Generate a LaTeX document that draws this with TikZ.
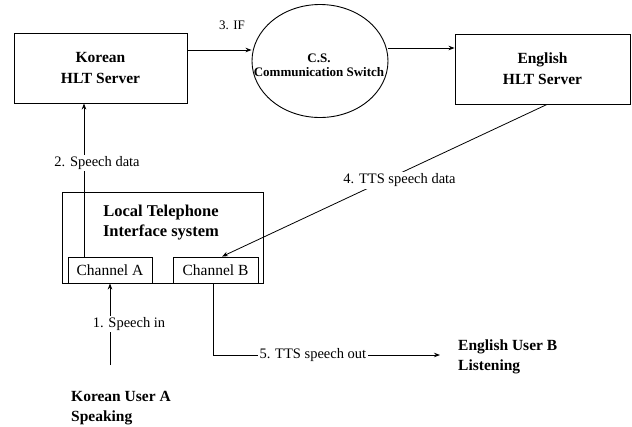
\documentclass[tikz,border=0pt]{standalone}
\usepackage{fontspec}
\setmainfont{Liberation Serif}
\usetikzlibrary{shapes.geometric,arrows.meta}

\tikzset{
  srvbox/.style={draw, line width=0.9pt, align=center, inner sep=0pt,
    font=\fontsize{15.5}{21}\selectfont\bfseries},
  chanbox/.style={draw, line width=0.9pt, inner sep=0pt,
    font=\fontsize{15.5}{17}\selectfont},
  boldtxt/.style={align=left, inner sep=0pt,
    font=\fontsize{15.5}{20}\selectfont\bfseries},
  lbl/.style={fill=white, inner sep=1.5pt, font=\fontsize{14.5}{17}\selectfont},
  arr/.style={-{Stealth[length=6pt,width=4.5pt]}, line width=0.8pt},
}

\begin{document}
\begin{tikzpicture}[x=1pt, y=-1pt]
\useasboundingbox (0,0) rectangle (632,426);

% servers and switch
\node[srvbox, minimum width=173pt, minimum height=70pt] (korean) at (100.5, 68) {Korean\\HLT Server};
\node[srvbox, minimum width=175pt, minimum height=70pt] (english) at (542.5, 69) {English\\HLT Server};
\node[draw, ellipse, line width=0.9pt, inner sep=0pt, minimum width=136pt, minimum height=113pt] (cs) at (320, 61) {};
\node[align=center, inner sep=0pt, font=\fontsize{13}{14}\selectfont\bfseries] (cstxt) at (319, 65) {C.S.\\Communication Switch};

% local telephone interface
\node[draw, line width=0.9pt, minimum width=201pt, minimum height=91pt] (local) at (162.5, 237.5) {};
\node[boldtxt, align=center, font=\fontsize{16.5}{20}\selectfont\bfseries] (localtxt) at (161, 223) {Local Telephone\\Interface system};
\node[chanbox, minimum width=84pt, minimum height=26pt] (chanA) at (110, 270) {Channel A};
\node[chanbox, minimum width=85pt, minimum height=26pt] (chanB) at (215.5, 270) {Channel B};

% users
\node[boldtxt, anchor=west] (userA) at (71, 408) {Korean User A\\Speaking};
\node[boldtxt, anchor=west] (userB) at (458, 357) {English User B\\Listening};
\coordinate (spkin) at (110, 365);
\coordinate (spkout) at (440, 355);

% connectors
\draw[arr] (spkin) -- node[lbl, xshift=19pt] (l1) {1. Speech in} (chanA.south);
\draw[arr] ([xshift=-26pt]chanA.north) -- node[lbl, pos=0.61, xshift=13pt] (l2) {2. Speech data}
  ([xshift=-26pt]chanA.north |- korean.south);
\draw[arr] ([yshift=18pt]korean.east) -- ([yshift=18pt]korean.east -| cs.west);
\node[font=\fontsize{13}{15}\selectfont] (l3) at (232, 25) {3. IF};
\draw[arr] ([yshift=21pt]english.west -| cs.east) -- ([yshift=21pt]english.west);
\draw[arr] ([xshift=4.5pt]english.south) -- node[lbl, xshift=15pt] (l4) {4. TTS speech data} ([xshift=6.5pt]chanB.north);
\draw[arr] ([xshift=-2.5pt]chanB.south) |- node[lbl, pos=0.72] (l5) {5. TTS speech out} (spkout);

\end{tikzpicture}
\end{document}
